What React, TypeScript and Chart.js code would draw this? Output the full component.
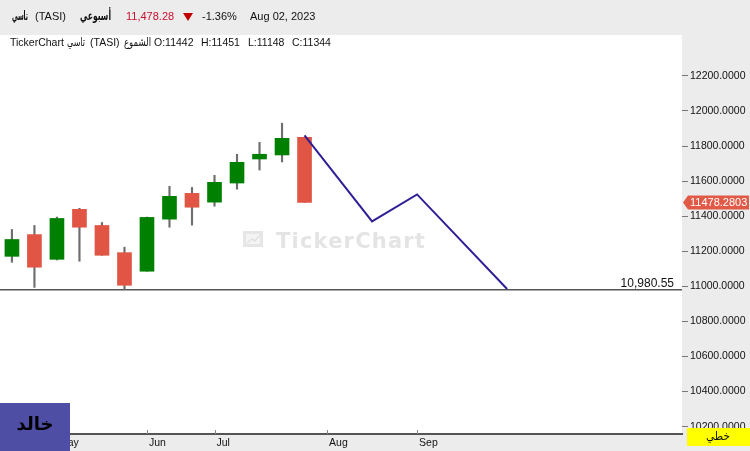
import React, { useEffect, useRef } from 'react';
import { Chart, registerables } from 'chart.js';

Chart.register(...registerables);

// Weekly candles (index = week slot)
const weekIdx = [0, 1, 2, 3, 4, 5, 6, 7, 8, 9, 10, 11, 12, 13];
const opens = [11171, 11295, 11154, 11439, 11347, 11192, 11086, 11383, 11530, 11480, 11589, 11726, 11749, 11850];
const highs = [11324, 11347, 11395, 11445, 11364, 11223, 11395, 11570, 11564, 11633, 11753, 11821, 11930, 11850];
const lows = [11137, 10994, 11150, 11143, 11177, 10983, 11086, 11337, 11349, 11457, 11554, 11663, 11709, 11478];
const closes = [11267, 11109, 11387, 11337, 11177, 11006, 11393, 11513, 11451, 11593, 11707, 11753, 11844, 11478];

// Drawn trend line
const trendX = [13, 16, 18, 22];
const trendY = [11861, 11370, 11524, 10985];

// Horizontal level
const levelValue = 10980.55;
const lastPrice = 11478.2803;

// Axis ticks
const monthTickIdx = [2, 6, 9, 14, 18];
const monthNames = ['May', 'Jun', 'Jul', 'Aug', 'Sep'];
const yTickValues = [10200, 10400, 10600, 10800, 11000, 11200, 11400, 11600, 11800, 12000, 12200];

const X_MIN = -0.53;
const X_MAX = 29.77;
const Y_MIN = 10158;
const Y_MAX = 12433;

const GREEN = '#008000';
const RED = '#e05543';

const decor = {
  id: 'decor',
  beforeDraw(chart: any) {
    const { ctx, chartArea: a, width, height } = chart;
    ctx.save();
    ctx.fillStyle = '#ececec';
    ctx.fillRect(0, 0, width, height);
    ctx.fillStyle = '#ffffff';
    ctx.fillRect(a.left, a.top, a.right - a.left, a.bottom - a.top);
    ctx.restore();
  },
  beforeDatasetsDraw(chart: any) {
    const { ctx } = chart;
    ctx.save();
    // watermark icon
    ctx.fillStyle = '#e6e6e6';
    ctx.fillRect(243, 231, 20, 16);
    ctx.fillStyle = '#f4f4f4';
    ctx.fillRect(246, 234, 14, 10);
    ctx.strokeStyle = '#e0e0e0';
    ctx.lineWidth = 1.5;
    ctx.beginPath();
    ctx.moveTo(247, 243);
    ctx.lineTo(252, 239);
    ctx.lineTo(255, 241);
    ctx.lineTo(260, 235);
    ctx.stroke();
    ctx.fillStyle = '#e4e4e4';
    ctx.font = 'bold 21px "DejaVu Sans"';
    try { (ctx as any).letterSpacing = '1.2px'; } catch (e) {}
    ctx.textBaseline = 'alphabetic';
    ctx.textAlign = 'left';
    ctx.fillText('TickerChart', 276, 248);
    try { (ctx as any).letterSpacing = '0px'; } catch (e) {}
    ctx.restore();
  },
  afterDraw(chart: any) {
    const { ctx, chartArea: a, scales } = chart;
    const xs = scales.x;
    const ys = scales.y;
    ctx.save();
    ctx.textAlign = 'left';
    ctx.textBaseline = 'middle';

    // header line 1
    const y1 = 17;
    ctx.fillStyle = '#111';
    ctx.font = 'bold 13px "DejaVu Sans"';
    ctx.fillText('تاسي', 12, y1, 16);
    ctx.font = '11px "Liberation Sans"';
    ctx.fillText('(TASI)', 35, y1);
    ctx.font = 'bold 13px "DejaVu Sans"';
    ctx.fillText('أسبوعي', 80, y1, 31);
    ctx.font = '11px "Liberation Sans"';
    ctx.fillStyle = '#c8102e';
    ctx.fillText('11,478.28', 126, y1);
    ctx.fillStyle = '#c00000';
    ctx.beginPath();
    ctx.moveTo(183, 13);
    ctx.lineTo(193, 13);
    ctx.lineTo(188, 21);
    ctx.closePath();
    ctx.fill();
    ctx.fillStyle = '#111';
    ctx.fillText('-1.36%', 202, y1);
    ctx.fillText('Aug 02, 2023', 250, y1);

    // header line 2
    const y2 = 43;
    ctx.font = '10.5px "Liberation Sans"';
    ctx.fillText('TickerChart', 10, y2);
    ctx.font = '11.5px "DejaVu Sans"';
    ctx.fillText('تاسي', 67, y2, 18);
    ctx.font = '10.5px "Liberation Sans"';
    ctx.fillText('(TASI)', 90, y2);
    ctx.font = '11.5px "DejaVu Sans"';
    ctx.fillText('الشموع', 124, y2, 27);
    ctx.font = '10.5px "Liberation Sans"';
    ctx.fillText('O:11442', 154, y2);
    ctx.fillText('H:11451', 201, y2);
    ctx.fillText('L:11148', 248, y2);
    ctx.fillText('C:11344', 292, y2);

    // x tick marks (inside plot, above axis line)
    ctx.strokeStyle = '#888';
    ctx.lineWidth = 1;
    monthTickIdx.forEach((i) => {
      const px = Math.round(xs.getPixelForValue(i)) + 0.5;
      ctx.beginPath();
      ctx.moveTo(px, a.bottom - 4);
      ctx.lineTo(px, a.bottom);
      ctx.stroke();
    });

    // level label
    const ly = ys.getPixelForValue(levelValue);
    ctx.font = '12px "Liberation Sans"';
    ctx.fillStyle = '#111';
    ctx.textAlign = 'right';
    ctx.textBaseline = 'alphabetic';
    ctx.fillText('10,980.55', a.right - 8, ly - 3);

    // last price label
    const py = ys.getPixelForValue(lastPrice);
    ctx.fillStyle = '#e05a47';
    ctx.beginPath();
    ctx.moveTo(a.right + 1, py);
    ctx.lineTo(a.right + 6, py - 7);
    ctx.lineTo(749, py - 7);
    ctx.lineTo(749, py + 7);
    ctx.lineTo(a.right + 6, py + 7);
    ctx.closePath();
    ctx.fill();
    ctx.fillStyle = '#ffffff';
    ctx.textAlign = 'left';
    ctx.textBaseline = 'middle';
    ctx.font = '11px "Liberation Sans"';
    ctx.fillText(lastPrice.toFixed(4), a.right + 8, py + 0.5);

    // yellow chart type box
    ctx.fillStyle = '#ffff00';
    ctx.fillRect(687, 428, 63, 18);
    ctx.fillStyle = '#111';
    ctx.textAlign = 'center';
    ctx.font = '12px "DejaVu Sans"';
    ctx.fillText('خطي', 718, 437, 24);

    // logo box
    ctx.fillStyle = '#4e4ea4';
    ctx.fillRect(0, 403, 70, 48);
    ctx.fillStyle = '#000';
    ctx.font = 'bold 18px "DejaVu Sans"';
    ctx.textAlign = 'center';
    ctx.fillText('خالد', 35, 425);

    ctx.restore();
  },
};

export default function App() {
  const ref = useRef<HTMLCanvasElement | null>(null);

  useEffect(() => {
    document.body.style.margin = '0';
    const canvas = ref.current;
    if (!canvas) return;

    const bodies = weekIdx.map((x, i) => ({ x, y: [opens[i], closes[i]] }));
    const wicks = weekIdx.map((x, i) => ({ x, y: [lows[i], highs[i]] }));
    const bodyColors = weekIdx.map((_, i) => (closes[i] >= opens[i] ? GREEN : RED));

    const chart = new Chart(canvas, {
      type: 'bar',
      data: {
        datasets: [
          {
            type: 'line',
            data: trendX.map((x, i) => ({ x, y: trendY[i] })),
            borderColor: '#2f1f96',
            borderWidth: 2,
            pointRadius: 0,
            order: 0,
          } as any,
          {
            type: 'line',
            data: [
              { x: X_MIN, y: levelValue },
              { x: X_MAX, y: levelValue },
            ],
            borderColor: '#555555',
            borderWidth: 1.5,
            pointRadius: 0,
            order: 3,
          } as any,
          {
            type: 'bar',
            data: bodies,
            backgroundColor: bodyColors,
            borderWidth: 0,
            barThickness: 14,
            grouped: false,
            order: 1,
          } as any,
          {
            type: 'bar',
            data: wicks,
            backgroundColor: '#6e6e6e',
            borderWidth: 0,
            barThickness: 1.5,
            grouped: false,
            order: 2,
          } as any,
        ],
      },
      options: {
        responsive: false,
        animation: false,
        events: [],
        layout: { padding: { top: 35, left: 0, right: 0, bottom: 0 } },
        plugins: { legend: { display: false }, tooltip: { enabled: false } },
        scales: {
          x: {
            type: 'linear',
            min: X_MIN,
            max: X_MAX,
            offset: false,
            afterBuildTicks: (s: any) => {
              s.ticks = monthTickIdx.map((v) => ({ value: v }));
            },
            afterFit: (s: any) => {
              s.height = 17;
            },
            grid: { display: false, drawTicks: false },
            border: { display: true, color: '#555555', width: 2 },
            ticks: {
              autoSkip: false,
              maxRotation: 0,
              align: 'start',
              labelOffset: 2,
              padding: 3,
              color: '#111',
              font: { family: 'Liberation Sans', size: 10.5 },
              callback: (v: any) => {
                const k = monthTickIdx.indexOf(Number(v));
                return k >= 0 ? monthNames[k] : '';
              },
            },
          },
          y: {
            type: 'linear',
            position: 'right',
            min: Y_MIN,
            max: Y_MAX,
            afterBuildTicks: (s: any) => {
              s.ticks = yTickValues.map((v) => ({ value: v }));
            },
            afterFit: (s: any) => {
              s.width = 68;
            },
            grid: { drawOnChartArea: false, drawTicks: true, tickLength: 6, color: '#777' },
            border: { display: false },
            ticks: {
              padding: 2,
              color: '#111',
              font: { family: 'Liberation Sans', size: 10.5 },
              callback: (v: any) => Number(v).toFixed(4),
            },
          },
        },
      },
      plugins: [decor],
    } as any);

    return () => chart.destroy();
  }, []);

  return (
    <div style={{ width: 750, height: 451 }}>
      <canvas ref={ref} width={750} height={451} style={{ display: 'block' }} />
    </div>
  );
}
